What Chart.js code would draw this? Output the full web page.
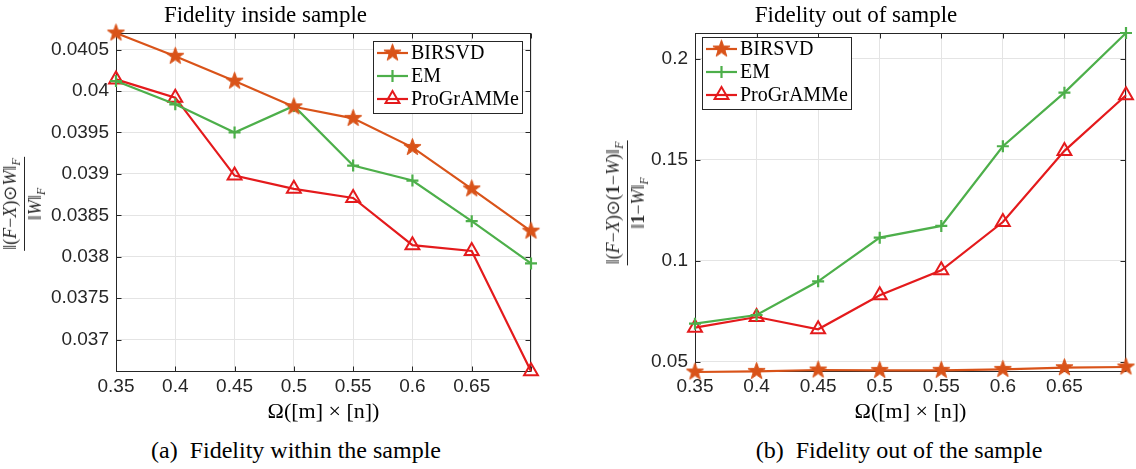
<!DOCTYPE html>
<html><head><meta charset="utf-8">
<script src="https://cdn.jsdelivr.net/npm/chart.js@4/dist/chart.umd.min.js"></script>
<style>
body{margin:0;background:#fff;width:1136px;height:469px;overflow:hidden;position:relative;font-family:"Liberation Serif",serif}
canvas{position:absolute;top:0}
.frac{position:absolute;transform:translate(-50%,-50%) rotate(-90deg);display:inline-flex;flex-direction:column;align-items:center;font-family:"Liberation Serif",serif;font-size:18px;color:#262626;white-space:nowrap;line-height:1.0}
.frac .num{border-bottom:1px solid #262626;padding:0 1px 2px}
.frac .den{padding-top:1px}
.frac sub{font-size:12px;vertical-align:-4px}
.cap{position:absolute;transform:translateX(-50%);font-size:24px;line-height:24px;color:#000;white-space:nowrap}
</style></head>
<body>
<canvas id="c1" width="560" height="430" style="left:0"></canvas>
<canvas id="c2" width="556" height="430" style="left:580px"></canvas>
<div class="frac" style="left:24px;top:204px"><span class="num">‖(<i>F</i>−<i>X</i>)⊙<i>W</i>‖<sub><i>F</i></sub></span><span class="den">‖<i>W</i>‖<sub><i>F</i></sub></span></div>
<div class="frac" style="left:627px;top:203px"><span class="num">‖(<i>F</i>−<i>X</i>)⊙(<b>1</b>−<i>W</i>)‖<sub><i>F</i></sub></span><span class="den">‖<b>1</b>−<i>W</i>‖<sub><i>F</i></sub></span></div>
<div class="cap" style="left:296px;top:438px">(a)&nbsp; Fidelity within the sample</div>
<div class="cap" style="left:899px;top:438px">(b)&nbsp; Fidelity out of the sample</div>
<script>
// ---- data ----
const omega = [0.35, 0.4, 0.45, 0.5, 0.55, 0.6, 0.65, 0.7];
const xTickLabels = ['0.35', '0.4', '0.45', '0.5', '0.55', '0.6', '0.65', ''];
const seriesNames = ['BIRSVD', 'EM', 'ProGrAMMe'];

const inBIRSVD    = [0.04070, 0.04042, 0.04012, 0.03981, 0.03967, 0.03932, 0.03882, 0.03831];
const inEM        = [0.04012, 0.03984, 0.03950, 0.03982, 0.03910, 0.03892, 0.03843, 0.03792];
const inProGrAMMe = [0.04014, 0.03992, 0.03898, 0.03882, 0.03871, 0.03814, 0.03807, 0.03662];
const inYTicks = [0.037, 0.0375, 0.038, 0.0385, 0.039, 0.0395, 0.04, 0.0405];
const inYTickLabels = ['0.037', '0.0375', '0.038', '0.0385', '0.039', '0.0395', '0.04', '0.0405'];
const inYRange = [0.03661, 0.04070];

const outBIRSVD    = [0.04505, 0.04538, 0.04604, 0.04588, 0.04590, 0.04637, 0.04720, 0.04753];
const outEM        = [0.06896, 0.07325, 0.08990, 0.11150, 0.11730, 0.15670, 0.18320, 0.21270];
const outProGrAMMe = [0.06698, 0.07225, 0.06616, 0.08297, 0.09533, 0.11920, 0.15440, 0.18190];
const outYTicks = [0.05, 0.1, 0.15, 0.2];
const outYTickLabels = ['0.05', '0.1', '0.15', '0.2'];
const outYRange = [0.04505, 0.21270];

const titles = ['Fidelity inside sample', 'Fidelity out of sample'];
const xTitle = 'Ω([m] × [n])';

// ---- styles ----
const COL = {BIRSVD: '#D95319', EM: '#4DAF4A', ProGrAMMe: '#E41A1C'};
function makeStar(color, R) {
  const s = Math.ceil(2 * R + 3);
  const c = document.createElement('canvas'); c.width = s; c.height = s;
  const g = c.getContext('2d'); const r = R * 0.40;
  g.beginPath();
  for (let k = 0; k < 10; k++) {
    const ang = -Math.PI / 2 + k * Math.PI / 5; const rr = k % 2 ? r : R;
    g.lineTo(s / 2 + rr * Math.cos(ang), s / 2 + rr * Math.sin(ang));
  }
  g.closePath(); g.fillStyle = color; g.fill(); g.strokeStyle = color; g.lineWidth = 1; g.stroke();
  return c;
}
const starImg = makeStar(COL.BIRSVD, 9);

function makeDatasets(a, b, c) {
  const pts = v => v.map((y, i) => ({x: omega[i], y}));
  return [
    {label: seriesNames[0], data: pts(a), borderColor: COL.BIRSVD, borderWidth: 2.2, pointStyle: starImg, pointRadius: 9, pointBorderWidth: 0, pointBackgroundColor: COL.BIRSVD, pointBorderColor: COL.BIRSVD, clip: false},
    {label: seriesNames[1], data: pts(b), borderColor: COL.EM, borderWidth: 2.2, pointStyle: 'cross', pointRadius: 6, pointBorderWidth: 2.2, pointBackgroundColor: COL.EM, pointBorderColor: COL.EM, clip: false},
    {label: seriesNames[2], data: pts(c), borderColor: COL.ProGrAMMe, borderWidth: 2.2, pointStyle: 'triangle', pointRadius: 8, pointBorderWidth: 2, pointBackgroundColor: 'rgba(255,255,255,0)', pointBorderColor: COL.ProGrAMMe, clip: false}
  ];
}

const frame = {
  id: 'frame',
  beforeDatasetsDraw(chart) {
    const {ctx, chartArea: a, scales: {x, y}} = chart;
    ctx.save();
    ctx.strokeStyle = '#262626'; ctx.lineWidth = 1;
    const L = Math.round(a.left) + 0.5, R = Math.round(a.right) - 0.5, T = Math.round(a.top) + 0.5, B = Math.round(a.bottom) - 0.5;
    ctx.strokeRect(L, T, R - L, B - T);
    ctx.beginPath();
    const len = 5;
    x.ticks.forEach(t => { const p = Math.round(x.getPixelForValue(t.value)) + 0.5; ctx.moveTo(p, B); ctx.lineTo(p, B - len); ctx.moveTo(p, T); ctx.lineTo(p, T + len); });
    y.ticks.forEach(t => { const p = Math.round(y.getPixelForValue(t.value)) + 0.5; ctx.moveTo(L, p); ctx.lineTo(L + len, p); ctx.moveTo(R, p); ctx.lineTo(R - len, p); });
    ctx.stroke();
    ctx.restore();
  }
};

const boxLegend = {
  id: 'boxLegend',
  afterDraw(chart, args, o) {
    if (!o || !o.width) return;
    const {ctx, chartArea: a} = chart;
    const x0 = o.align === 'right' ? Math.round(a.right - o.dx - o.width) : Math.round(a.left + o.dx);
    const y0 = Math.round(a.top + o.dy);
    ctx.save();
    ctx.fillStyle = '#fff'; ctx.fillRect(x0, y0, o.width, o.height);
    ctx.strokeStyle = '#262626'; ctx.lineWidth = 1; ctx.strokeRect(x0 + 0.5, y0 + 0.5, o.width, o.height);
    chart.data.datasets.forEach((ds, i) => {
      const cy = y0 + o.first + i * o.step;
      ctx.strokeStyle = ds.borderColor; ctx.lineWidth = ds.borderWidth;
      ctx.beginPath(); ctx.moveTo(x0 + 4, cy); ctx.lineTo(x0 + 35, cy); ctx.stroke();
      ctx.fillStyle = ds.pointBackgroundColor; ctx.strokeStyle = ds.pointBorderColor; ctx.lineWidth = ds.pointBorderWidth;
      Chart.helpers.drawPoint(ctx, {pointStyle: ds.pointStyle, radius: ds.pointRadius, borderWidth: ds.pointBorderWidth, rotation: 0}, x0 + 19.5, cy);
      ctx.fillStyle = '#000'; ctx.font = '20px "Liberation Serif"'; ctx.textBaseline = 'middle'; ctx.textAlign = 'left';
      ctx.fillText(ds.label, x0 + 38, cy + 1);
    });
    ctx.restore();
  }
};

function makeChart(id, title, datasets, yRange, yTicks, yTickLabels, yWidth, padRight, legendOpts) {
  return new Chart(document.getElementById(id), {
    type: 'line',
    data: {datasets},
    plugins: [frame, boxLegend],
    options: {
      responsive: false, animation: false, devicePixelRatio: 1,
      layout: {padding: {left: 0, right: padRight, top: 0, bottom: 0}},
      plugins: {
        legend: {display: false}, tooltip: {enabled: false},
        title: {display: true, text: title, color: '#000', font: {family: '"Liberation Serif"', size: 23, weight: 'normal'}, padding: {top: 2, bottom: 3.4}},
        boxLegend: legendOpts
      },
      scales: {
        x: {
          type: 'linear', min: omega[0], max: omega[omega.length - 1],
          afterBuildTicks: s => { s.ticks = omega.map(v => ({value: v})); },
          afterFit: s => { s.height = 58; },
          ticks: {callback: (v, i) => xTickLabels[i], color: '#262626', padding: 3, maxRotation: 0, autoSkip: false, font: {family: '"Liberation Sans"', size: 19}},
          grid: {color: '#e4e4e4', lineWidth: 1, drawTicks: false},
          border: {display: false},
          title: {display: true, text: xTitle, color: '#000', font: {family: '"Liberation Serif"', size: 22}, padding: {top: 0, bottom: 4.8}}
        },
        y: {
          type: 'linear', min: yRange[0], max: yRange[1],
          afterBuildTicks: s => { s.ticks = yTicks.map(v => ({value: v})); },
          afterFit: s => { s.width = yWidth; },
          ticks: {callback: (v, i) => yTickLabels[i], color: '#262626', padding: 7, autoSkip: false, font: {family: '"Liberation Sans"', size: 19}},
          grid: {color: '#e4e4e4', lineWidth: 1, drawTicks: false},
          border: {display: false}
        }
      }
    }
  });
}

makeChart('c1', titles[0], makeDatasets(inBIRSVD, inEM, inProGrAMMe), inYRange, inYTicks, inYTickLabels, 116, 29,
  {align: 'right', dx: 9, dy: 8, width: 149, height: 72, first: 12, step: 23});
makeChart('c2', titles[1], makeDatasets(outBIRSVD, outEM, outProGrAMMe), outYRange, outYTicks, outYTickLabels, 115, 4,
  {align: 'left', dx: 7, dy: 4, width: 149, height: 72, first: 12, step: 23});
</script>
</body></html>
